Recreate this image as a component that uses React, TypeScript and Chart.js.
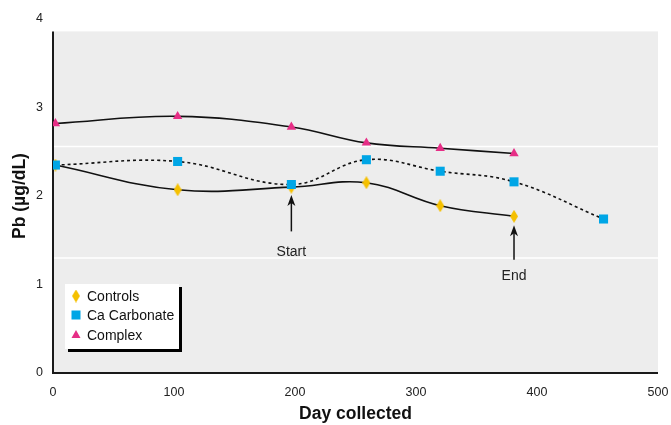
import React, { useEffect, useRef } from "react";
import { Chart, registerables } from "chart.js";

Chart.register(...registerables);

// ---- data ----
const seriesNames = ["Controls", "Ca Carbonate", "Complex"];
const controlsDays = [2, 103, 197, 259, 320, 381];
const controlsPb = [2.35, 2.07, 2.1, 2.15, 1.89, 1.77];
const caCarbonateDays = [2, 103, 197, 259, 320, 381, 455];
const caCarbonatePb = [2.35, 2.39, 2.13, 2.41, 2.28, 2.16, 1.74];
const complexDays = [2, 103, 197, 259, 320, 381];
const complexPb = [2.82, 2.9, 2.78, 2.6, 2.54, 2.48];

const xTickStep = 100;
const yTickStep = 1;
const referencePb = [1.3, 2.56];

const markerDays = [197, 381];
const markerLabels = ["Start", "End"];
const markerTipPb = [2.01, 1.67];
const markerTailPb = [1.6, 1.28];
const markerLabelPb = [1.36, 1.1];

// ---- style ----
const YELLOW = "#f5c000";
const BLUE = "#00a6e6";
const MAGENTA = "#e62e86";
const PLOT_BG = "#ededed";
const PLOT_TOP_PB = 3.86;
const SANS = "'Liberation Sans', Arial, sans-serif";

function makeDiamond(): HTMLCanvasElement {
  const c = document.createElement("canvas");
  c.width = 8;
  c.height = 13;
  const g = c.getContext("2d")!;
  g.fillStyle = YELLOW;
  g.beginPath();
  g.moveTo(4, 0);
  g.lineTo(8, 6.5);
  g.lineTo(4, 13);
  g.lineTo(0, 6.5);
  g.closePath();
  g.fill();
  return c;
}

function toPoints(xs: number[], ys: number[]) {
  return xs.map((x, i) => ({ x, y: ys[i] }));
}

export default function App() {
  const ref = useRef<HTMLCanvasElement | null>(null);

  useEffect(() => {
    document.body.style.margin = "0";
    const canvas = ref.current;
    if (!canvas) return;
    const diamond = makeDiamond();

    const decor = {
      id: "decor",
      beforeDatasetsDraw(chart: any) {
        const { ctx, chartArea, scales } = chart;
        const x = scales.x;
        const y = scales.y;
        const top = y.getPixelForValue(PLOT_TOP_PB);
        ctx.save();
        ctx.fillStyle = PLOT_BG;
        ctx.fillRect(chartArea.left, top, chartArea.right - chartArea.left, chartArea.bottom - top);
        ctx.strokeStyle = "#ffffff";
        ctx.lineWidth = 1.5;
        referencePb.forEach((v) => {
          const py = y.getPixelForValue(v);
          ctx.beginPath();
          ctx.moveTo(chartArea.left, py);
          ctx.lineTo(chartArea.right, py);
          ctx.stroke();
        });
        ctx.strokeStyle = "#1a1a1a";
        ctx.lineWidth = 2;
        ctx.beginPath();
        ctx.moveTo(chartArea.left, top);
        ctx.lineTo(chartArea.left, chartArea.bottom);
        ctx.lineTo(chartArea.right, chartArea.bottom);
        ctx.stroke();

        // arrows
        markerDays.forEach((d, i) => {
          const px = x.getPixelForValue(d);
          const tip = y.getPixelForValue(markerTipPb[i]);
          const tail = y.getPixelForValue(markerTailPb[i]);
          ctx.strokeStyle = "#111";
          ctx.fillStyle = "#111";
          ctx.lineWidth = 1.5;
          ctx.beginPath();
          ctx.moveTo(px, tail);
          ctx.lineTo(px, tip + 6);
          ctx.stroke();
          ctx.beginPath();
          ctx.moveTo(px, tip);
          ctx.lineTo(px + 4, tip + 11);
          ctx.lineTo(px, tip + 8);
          ctx.lineTo(px - 4, tip + 11);
          ctx.closePath();
          ctx.fill();
          ctx.font = `14px ${SANS}`;
          ctx.textAlign = "center";
          ctx.textBaseline = "middle";
          ctx.fillStyle = "#222";
          ctx.fillText(markerLabels[i], px, y.getPixelForValue(markerLabelPb[i]));
        });
        ctx.restore();
      },
      afterDraw(chart: any) {
        const { ctx, chartArea } = chart;
        const lx = chartArea.left + 12;
        const ly = chartArea.bottom - 89;
        const w = 114;
        const h = 65;
        ctx.save();
        ctx.fillStyle = "#000";
        ctx.fillRect(lx + 3, ly + 3, w, h);
        ctx.fillStyle = "#fff";
        ctx.fillRect(lx, ly, w, h);
        ctx.font = `14px ${SANS}`;
        ctx.textAlign = "left";
        ctx.textBaseline = "middle";
        const rows = [12, 31, 51];
        chart.data.datasets
          .slice()
          .sort((a: any, b: any) => seriesNames.indexOf(a.label) - seriesNames.indexOf(b.label))
          .forEach((ds: any, i: number) => {
            const cy = ly + rows[i];
            const cx = lx + 11;
            if (ds.label === "Controls") {
              ctx.drawImage(diamond, cx - 4, cy - 6.5);
            } else if (ds.label === "Ca Carbonate") {
              ctx.fillStyle = BLUE;
              ctx.fillRect(cx - 4.5, cy - 4.5, 9, 9);
            } else {
              ctx.fillStyle = MAGENTA;
              ctx.beginPath();
              ctx.moveTo(cx, cy - 5);
              ctx.lineTo(cx + 4.5, cy + 3);
              ctx.lineTo(cx - 4.5, cy + 3);
              ctx.closePath();
              ctx.fill();
            }
            ctx.fillStyle = "#111";
            ctx.fillText(ds.label, lx + 22, cy + 1);
          });
        ctx.restore();
      },
    };

    const chart = new Chart(canvas, {
      type: "line",
      data: {
        datasets: [
          {
            label: seriesNames[1],
            data: toPoints(caCarbonateDays, caCarbonatePb),
            borderColor: "#111",
            borderWidth: 1.6,
            borderDash: [3, 3],
            tension: 0.4,
            pointStyle: "rect",
            pointRadius: 6.4,
            pointBackgroundColor: BLUE,
            pointBorderWidth: 0,
            order: 0,
          },
          {
            label: seriesNames[2],
            data: toPoints(complexDays, complexPb),
            borderColor: "#111",
            borderWidth: 1.6,
            tension: 0.4,
            pointStyle: "triangle",
            pointRadius: 5.4,
            pointBackgroundColor: MAGENTA,
            pointBorderWidth: 0,
            order: 1,
          },
          {
            label: seriesNames[0],
            data: toPoints(controlsDays, controlsPb),
            borderColor: "#111",
            borderWidth: 1.6,
            tension: 0.4,
            pointStyle: diamond as any,
            pointRadius: 6,
            pointBackgroundColor: YELLOW,
            pointBorderWidth: 0,
            order: 2,
          },
        ] as any,
      },
      options: {
        responsive: false,
        animation: false,
        layout: { padding: { top: 19, right: 13, left: 0, bottom: 0 } },
        plugins: { legend: { display: false }, tooltip: { enabled: false } },
        scales: {
          x: {
            type: "linear",
            min: 0,
            max: 500,
            grid: { display: false, drawTicks: false },
            border: { display: false },
            ticks: { stepSize: xTickStep, padding: 12, color: "#222", font: { family: SANS, size: 12.5 } },
            title: {
              display: true,
              text: "Day collected",
              color: "#111",
              padding: 0,
              font: { family: SANS, size: 17.5, weight: "bold" },
            },
            afterFit: (s: any) => {
              s.height = 52;
              s.paddingLeft = 0;
              s.paddingRight = 0;
            },
          },
          y: {
            type: "linear",
            min: 0,
            max: 4,
            grid: { display: false, drawTicks: false },
            border: { display: false },
            ticks: { stepSize: yTickStep, padding: 10, color: "#222", font: { family: SANS, size: 12.5 } },
            title: {
              display: true,
              text: "Pb (µg/dL)",
              color: "#111",
              padding: { top: 9.5, bottom: 0 },
              font: { family: SANS, size: 17.5, weight: "bold" },
            },
            afterFit: (s: any) => {
              s.width = 53;
            },
          },
        },
      },
      plugins: [decor],
    });
    return () => chart.destroy();
  }, []);

  return (
    <div style={{ position: "absolute", left: 0, top: 0, width: 671, height: 425 }}>
      <canvas ref={ref} width={671} height={425} style={{ display: "block" }} />
    </div>
  );
}
